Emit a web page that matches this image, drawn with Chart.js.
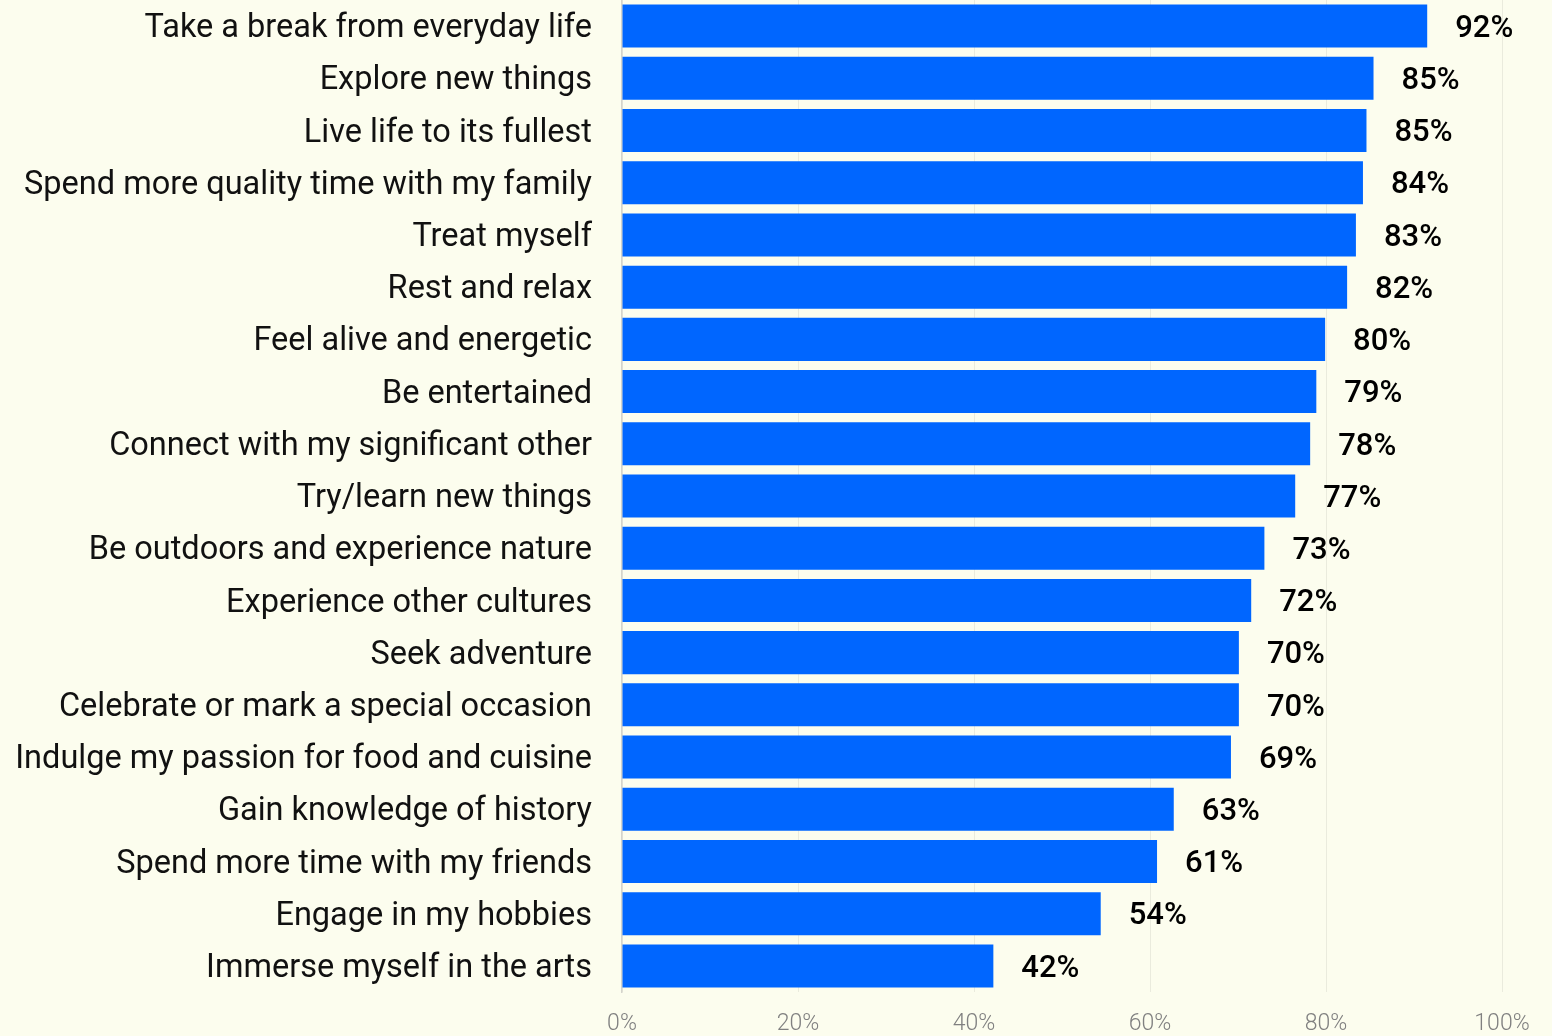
<!DOCTYPE html>
<html>
<head>
<meta charset="utf-8">
<script src="https://cdn.jsdelivr.net/npm/chart.js@4"></script>
<style>
  html, body { margin: 0; padding: 0; background: #fcfdee; }
  #wrap { width: 1552px; height: 1036px; position: relative; }
</style>
</head>
<body>
<div id="wrap"><canvas id="chart"></canvas></div>
<script>
// Reasons for travelling, share of respondents (%)
const reasons = [
  "Take a break from everyday life",
  "Explore new things",
  "Live life to its fullest",
  "Spend more quality time with my family",
  "Treat myself",
  "Rest and relax",
  "Feel alive and energetic",
  "Be entertained",
  "Connect with my significant other",
  "Try/learn new things",
  "Be outdoors and experience nature",
  "Experience other cultures",
  "Seek adventure",
  "Celebrate or mark a special occasion",
  "Indulge my passion for food and cuisine",
  "Gain knowledge of history",
  "Spend more time with my friends",
  "Engage in my hobbies",
  "Immerse myself in the arts"
];
const shares = [91.5, 85.4, 84.6, 84.2, 83.4, 82.4, 79.9, 78.9, 78.2, 76.5,
                73.0, 71.5, 70.1, 70.1, 69.2, 62.7, 60.8, 54.4, 42.2];
const axisTicks = [0, 20, 40, 60, 80, 100];

const FONT = "Roboto, 'Liberation Sans', sans-serif";

// Writes the rounded share just past the end of each bar
const valueLabels = {
  id: 'valueLabels',
  afterDatasetsDraw(chart) {
    const ctx = chart.ctx;
    const meta = chart.getDatasetMeta(0);
    ctx.save();
    ctx.font = "500 31px " + FONT;
    ctx.fillStyle = "#000000";
    ctx.textAlign = "left";
    ctx.textBaseline = "middle";
    meta.data.forEach((bar, i) => {
      ctx.fillText(Math.round(shares[i]) + "%", bar.x + 28, bar.y + 3);
    });
    ctx.restore();
  }
};

new Chart(document.getElementById('chart'), {
  type: 'bar',
  data: {
    labels: reasons,
    datasets: [{
      data: shares,
      backgroundColor: '#0066ff',
      borderWidth: 0,
      barPercentage: 0.824,
      categoryPercentage: 1.0
    }]
  },
  plugins: [valueLabels],
  options: {
    indexAxis: 'y',
    responsive: true,
    maintainAspectRatio: false,
    animation: false,
    layout: { padding: { left: 0, right: 50, top: 0, bottom: 0 } },
    plugins: {
      legend: { display: false },
      tooltip: { enabled: false }
    },
    scales: {
      x: {
        min: 0,
        max: 100,
        afterBuildTicks(scale) {
          scale.ticks = axisTicks.map(v => ({ value: v }));
        },
        afterFit(scale) { scale.height = 44; },
        grid: { color: 'rgba(0,0,0,0.07)', lineWidth: 1, drawTicks: false },
        border: { display: false },
        ticks: {
          padding: 18,
          color: '#808080',
          font: { family: FONT, size: 23, weight: '300' },
          callback: v => v + '%'
        }
      },
      y: {
        afterFit(scale) {
          scale.width = 622;
          // bars fill the full height; labels sit at band centres
          scale.paddingTop = 0;
          scale.paddingBottom = 0;
        },
        grid: { display: false, drawTicks: false },
        border: { display: true, color: '#d4d4cc', width: 1.5 },
        ticks: {
          padding: 30,
          labelOffset: 3,
          color: '#111111',
          font: { family: FONT, size: 32.5, weight: '400' }
        }
      }
    }
  }
});
</script>
</body>
</html>
